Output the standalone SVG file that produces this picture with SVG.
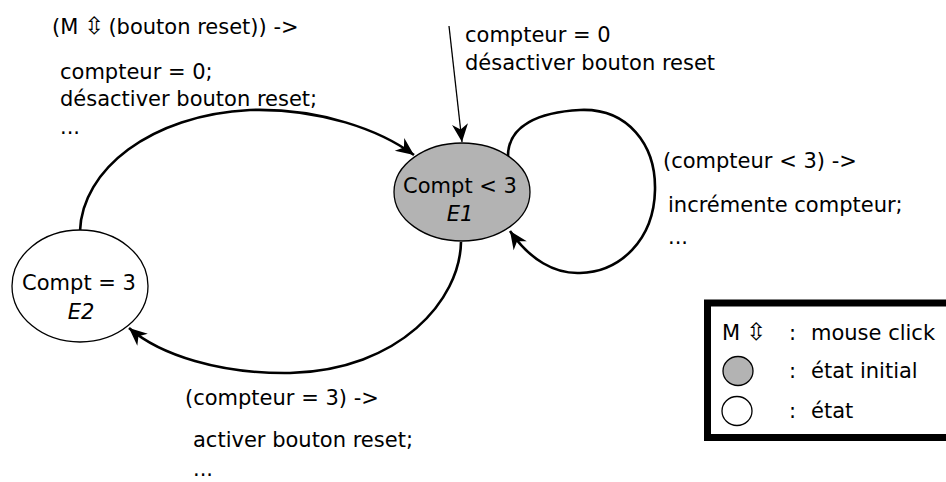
<svg xmlns="http://www.w3.org/2000/svg" width="946" height="482" viewBox="0 0 946 482">
<style>
text { font-family: "DejaVu Sans", Verdana, sans-serif; font-size: 21px; fill: #000; }
.it { font-style: italic; }
.node { stroke: #000; stroke-width: 1.3; }
.arc { fill: none; stroke: #000; stroke-width: 2.6; marker-end: url(#ah); }
.thin { fill: none; stroke: #000; stroke-width: 1.3; marker-end: url(#ah); }
.sym { font-size: 24px; }
</style>
<defs>
<marker id="ah" viewBox="-19 -9 20 18" markerWidth="20" markerHeight="18" refX="0" refY="0" orient="auto" markerUnits="userSpaceOnUse">
<path d="M0,0 L-18,-8 L-12.5,0 L-18,8 Z" fill="#000"/>
</marker>
</defs>
<rect width="946" height="482" fill="#fff"/>

<g id="connectors">
<path class="arc" d="M80,231 C82,170 150,115 250,110 C320,108 380,130 414,155"/>
<path class="thin" d="M449,26 L462,142"/>
<path class="arc" d="M508,156 C508,125 540,112 580,110 C628,108 656,145 655,190 C654,240 620,272 580,273 C555,274 530,260 510,231"/>
<path class="arc" d="M461,242 C460,300 400,370 290,373 C220,374 160,355 129,328"/>
</g>

<g id="E1">
<ellipse class="node" cx="462" cy="192" rx="68" ry="49" fill="#b3b3b3"/>
<text x="460" y="193" text-anchor="middle">Compt &lt; 3</text>
<text class="it" x="460" y="221" text-anchor="middle">E1</text>
</g>

<g id="E2">
<ellipse class="node" cx="80" cy="286" rx="68" ry="56" fill="#fff"/>
<text x="79" y="290" text-anchor="middle">Compt = 3</text>
<text class="it" x="81" y="319" text-anchor="middle">E2</text>
</g>

<g id="labels">
<text x="52" y="34">(M<tspan class="sym" dx="6">⇳</tspan><tspan dx="4">(bouton reset)) -&gt;</tspan></text>
<text x="60" y="79">compteur = 0;</text>
<text x="60" y="106">désactiver bouton reset;</text>
<text x="60" y="134">...</text>

<text x="465" y="42">compteur = 0</text>
<text x="465" y="70">désactiver bouton reset</text>

<text x="663" y="168">(compteur &lt; 3) -&gt;</text>
<text x="668" y="212">incrémente compteur;</text>
<text x="668" y="244">...</text>

<text x="185" y="405">(compteur = 3) -&gt;</text>
<text x="193" y="447">activer bouton reset;</text>
<text x="193" y="476">...</text>
</g>

<g id="legend">
<rect x="707.5" y="303" width="250" height="134.5" fill="none" stroke="#000" stroke-width="7"/>
<text x="722" y="340">M<tspan class="sym" dx="6">⇳</tspan></text>
<text x="789" y="340">:</text>
<text x="811" y="340">mouse click</text>
<ellipse class="node" cx="738" cy="371" rx="15" ry="14.5" fill="#b3b3b3"/>
<text x="789" y="378">:</text>
<text x="811" y="378">état initial</text>
<ellipse class="node" cx="737" cy="411" rx="15" ry="14.5" fill="#fff"/>
<text x="789" y="418">:</text>
<text x="811" y="418">état</text>
</g>
</svg>
